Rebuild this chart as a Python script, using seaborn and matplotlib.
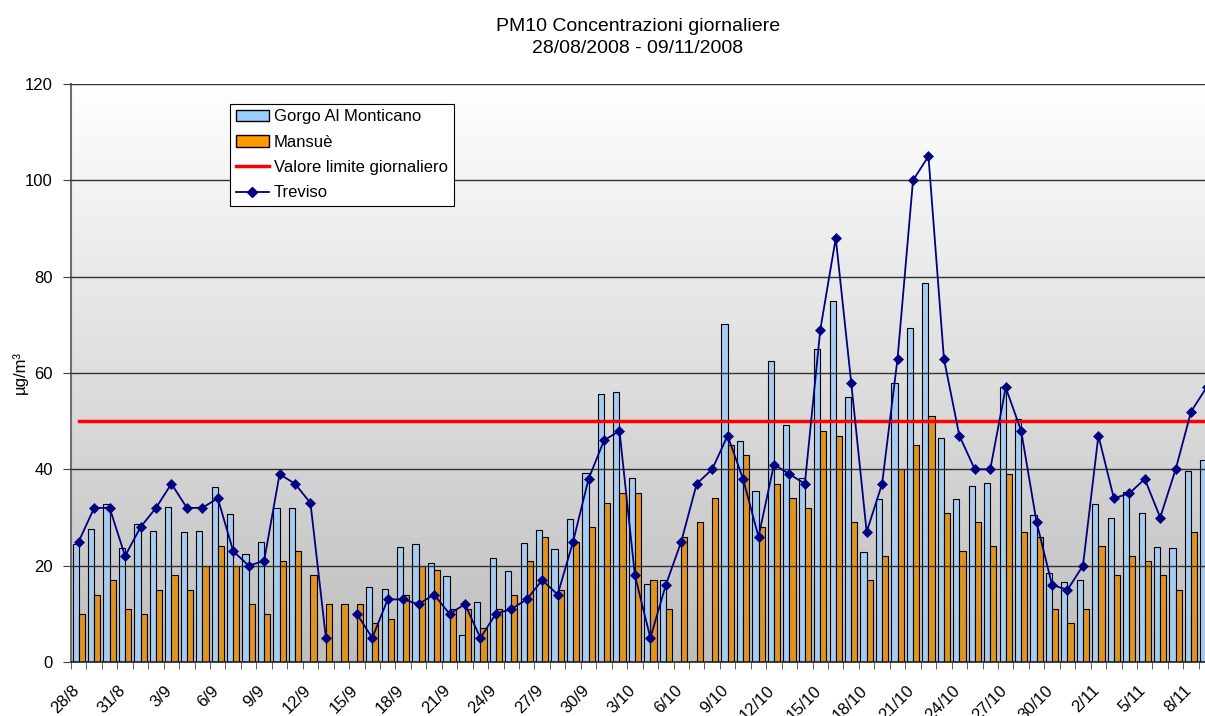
import numpy as np
import pandas as pd
import matplotlib
matplotlib.use("Agg")
import matplotlib.pyplot as plt
import matplotlib.transforms as mtransforms
from matplotlib.patches import Patch
from matplotlib.lines import Line2D
from matplotlib.colors import LinearSegmentedColormap
import seaborn as sns

# giorni dal 28/08/2008 al 09/11/2008
date = pd.date_range("2008-08-28", "2008-11-09", freq="D")
giorni = [f"{d.day}/{d.month}" for d in date]

gorgo = [24.6, 27.6, 32.8, 23.7, 28.7, 27.1, 32.1, 26.9, 27.1, 36.3,
         30.7, 22.5, 25.0, 32.0, 32.0, np.nan, np.nan, np.nan, np.nan, 15.6,
         15.1, 23.9, 24.4, 20.6, 17.9, 5.7, 12.4, 21.5, 18.8, 24.8,
         27.5, 23.5, 29.7, 39.2, 55.7, 56.0, 38.3, 16.2, 17.0, np.nan,
         np.nan, np.nan, 70.2, 45.8, 35.6, 62.5, 49.2, 38.3, 65.0, 75.0,
         55.0, 22.9, 33.9, 58.0, 69.4, 78.6, 46.5, 33.9, 36.6, 37.2,
         57.0, 50.4, 30.6, 18.5, 16.7, 17.0, 32.9, 29.9, 35.2, 30.9,
         23.9, 23.7, 39.7, 41.9]
mansue = [10, 14, 17, 11, 10, 15, 18, 15, 20, 24,
          20, 12, 10, 21, 23, 18, 12, 12, 12, 8,
          9, 14, 20, 19, 11, 11, 7, 11, 14, 21,
          26, 15, 25, 28, 33, 35, 35, 17, 11, 26,
          29, 34, 45, 43, 28, 37, 34, 32, 48, 47,
          29, 17, 22, 40, 45, 51, 31, 23, 29, 24,
          39, 27, 26, 11, 8, 11, 24, 18, 22, 21,
          18, 15, 27, np.nan]
treviso = [25, 32, 32, 22, 28, 32, 37, 32, 32, 34,
           23, 20, 21, 39, 37, 33, 5, np.nan, 10, 5,
           13, 13, 12, 14, 10, 12, 5, 10, 11, 13,
           17, 14, 25, 38, 46, 48, 18, 5, 16, 25,
           37, 40, 47, 38, 26, 41, 39, 37, 69, 88,
           58, 27, 37, 63, 100, 105, 63, 47, 40, 40,
           57, 48, 29, 16, 15, 20, 47, 34, 35, 38,
           30, 40, 52, 57]
limite = [50] * len(giorni)

stazioni = ["Gorgo Al Monticano", "Mansuè"]
colori = {"Gorgo Al Monticano": "#99ccff", "Mansuè": "#ff9900"}

df_bar = pd.DataFrame({
    "giorno": giorni * 2,
    "stazione": [stazioni[0]] * len(giorni) + [stazioni[1]] * len(giorni),
    "valore": gorgo + mansue,
})
pos = np.arange(len(giorni))
df_tv = pd.DataFrame({"pos": pos, "Treviso": treviso})
df_tv["tratto"] = np.cumsum(df_tv["Treviso"].isna())
df_tv = df_tv.dropna()

plt.rcParams["font.family"] = ["Liberation Sans", "DejaVu Sans"]
plt.rcParams["font.size"] = 12

fig = plt.figure(figsize=(12.05, 7.16), dpi=100)
ax = fig.add_axes([71 / 1205, 54 / 716, 1134 / 1205, 578 / 716])

sns.barplot(data=df_bar, x="giorno", y="valore", hue="stazione", order=giorni,
            hue_order=stazioni, palette=colori, edgecolor="black", linewidth=0.8,
            width=0.8, errorbar=None, legend=False, ax=ax, zorder=2)
sns.lineplot(x=pos, y=limite, color="#ff0000", linewidth=2.5, ax=ax, zorder=3)
sns.lineplot(data=df_tv, x="pos", y="Treviso", units="tratto", estimator=None,
             color="#000080", linewidth=1.3, marker="D", markersize=5.5,
             markeredgecolor="#000080", markeredgewidth=0.5, ax=ax, zorder=4)

# sfondo sfumato dell'area del grafico (bianco in alto, grigio in basso)
grad = np.linspace(0, 1, 256).reshape(-1, 1)
cmap = LinearSegmentedColormap.from_list("sfondo", ["#ffffff", "#bebebe"])
ax.imshow(grad, extent=[0, 1, 0, 1], origin="upper", transform=ax.transAxes,
          aspect="auto", cmap=cmap, zorder=0)

ax.set_xlim(-0.5, 72.9)
ax.set_ylim(0, 120)
ax.set_yticks(range(0, 121, 20))
ax.yaxis.grid(True, color="#303030", linewidth=1.0)
ax.xaxis.grid(False)
ax.set_axisbelow(False)
for l in ax.get_ygridlines():
    l.set_zorder(1)

ax.set_xticks(pos[::3])
ax.set_xticklabels(giorni[::3], rotation=45, ha="right", va="top",
                   rotation_mode="anchor")
ax.set_xticks(pos - 0.5, minor=True)
ax.tick_params(axis="x", which="major", length=0, pad=15)
ax.tick_params(axis="x", which="minor", length=5, color="#404040")
ax.tick_params(axis="y", length=6, color="#404040", pad=7)
spost = mtransforms.ScaledTranslation(-5 / 72, 0, fig.dpi_scale_trans)
for lab in ax.get_xticklabels():
    lab.set_transform(lab.get_transform() + spost)

for s in ["top", "right"]:
    ax.spines[s].set_visible(False)
ax.spines["left"].set_color("#707070")
ax.spines["left"].set_linewidth(1.5)
ax.spines["bottom"].set_color("#202020")
ax.spines["bottom"].set_linewidth(1.2)

ax.set_xlabel("")
ax.set_ylabel("µg/m³", fontsize=12)
ax.yaxis.set_label_coords(-0.038, 0.5)
ax.set_title("PM10 Concentrazioni giornaliere\n28/08/2008 - 09/11/2008",
             fontsize=14, pad=22, linespacing=1.45)

handles = [
    Patch(facecolor=colori[stazioni[0]], edgecolor="black", linewidth=1),
    Patch(facecolor=colori[stazioni[1]], edgecolor="black", linewidth=1),
    Line2D([], [], color="#ff0000", linewidth=2.5),
    Line2D([], [], color="#000080", linewidth=1.3, marker="D", markersize=5.5),
]
etichette = stazioni + ["Valore limite giornaliero", "Treviso"]
leg = ax.legend(handles, etichette, loc="upper left", bbox_to_anchor=(0.14, 0.966),
                fancybox=False, framealpha=1, edgecolor="black", fontsize=12,
                handlelength=2.0, handletextpad=0.3, labelspacing=0.62,
                borderpad=0.35, borderaxespad=0)
leg.get_frame().set_linewidth(0.8)
leg.set_zorder(10)

fig.savefig("out.png", dpi=100)
